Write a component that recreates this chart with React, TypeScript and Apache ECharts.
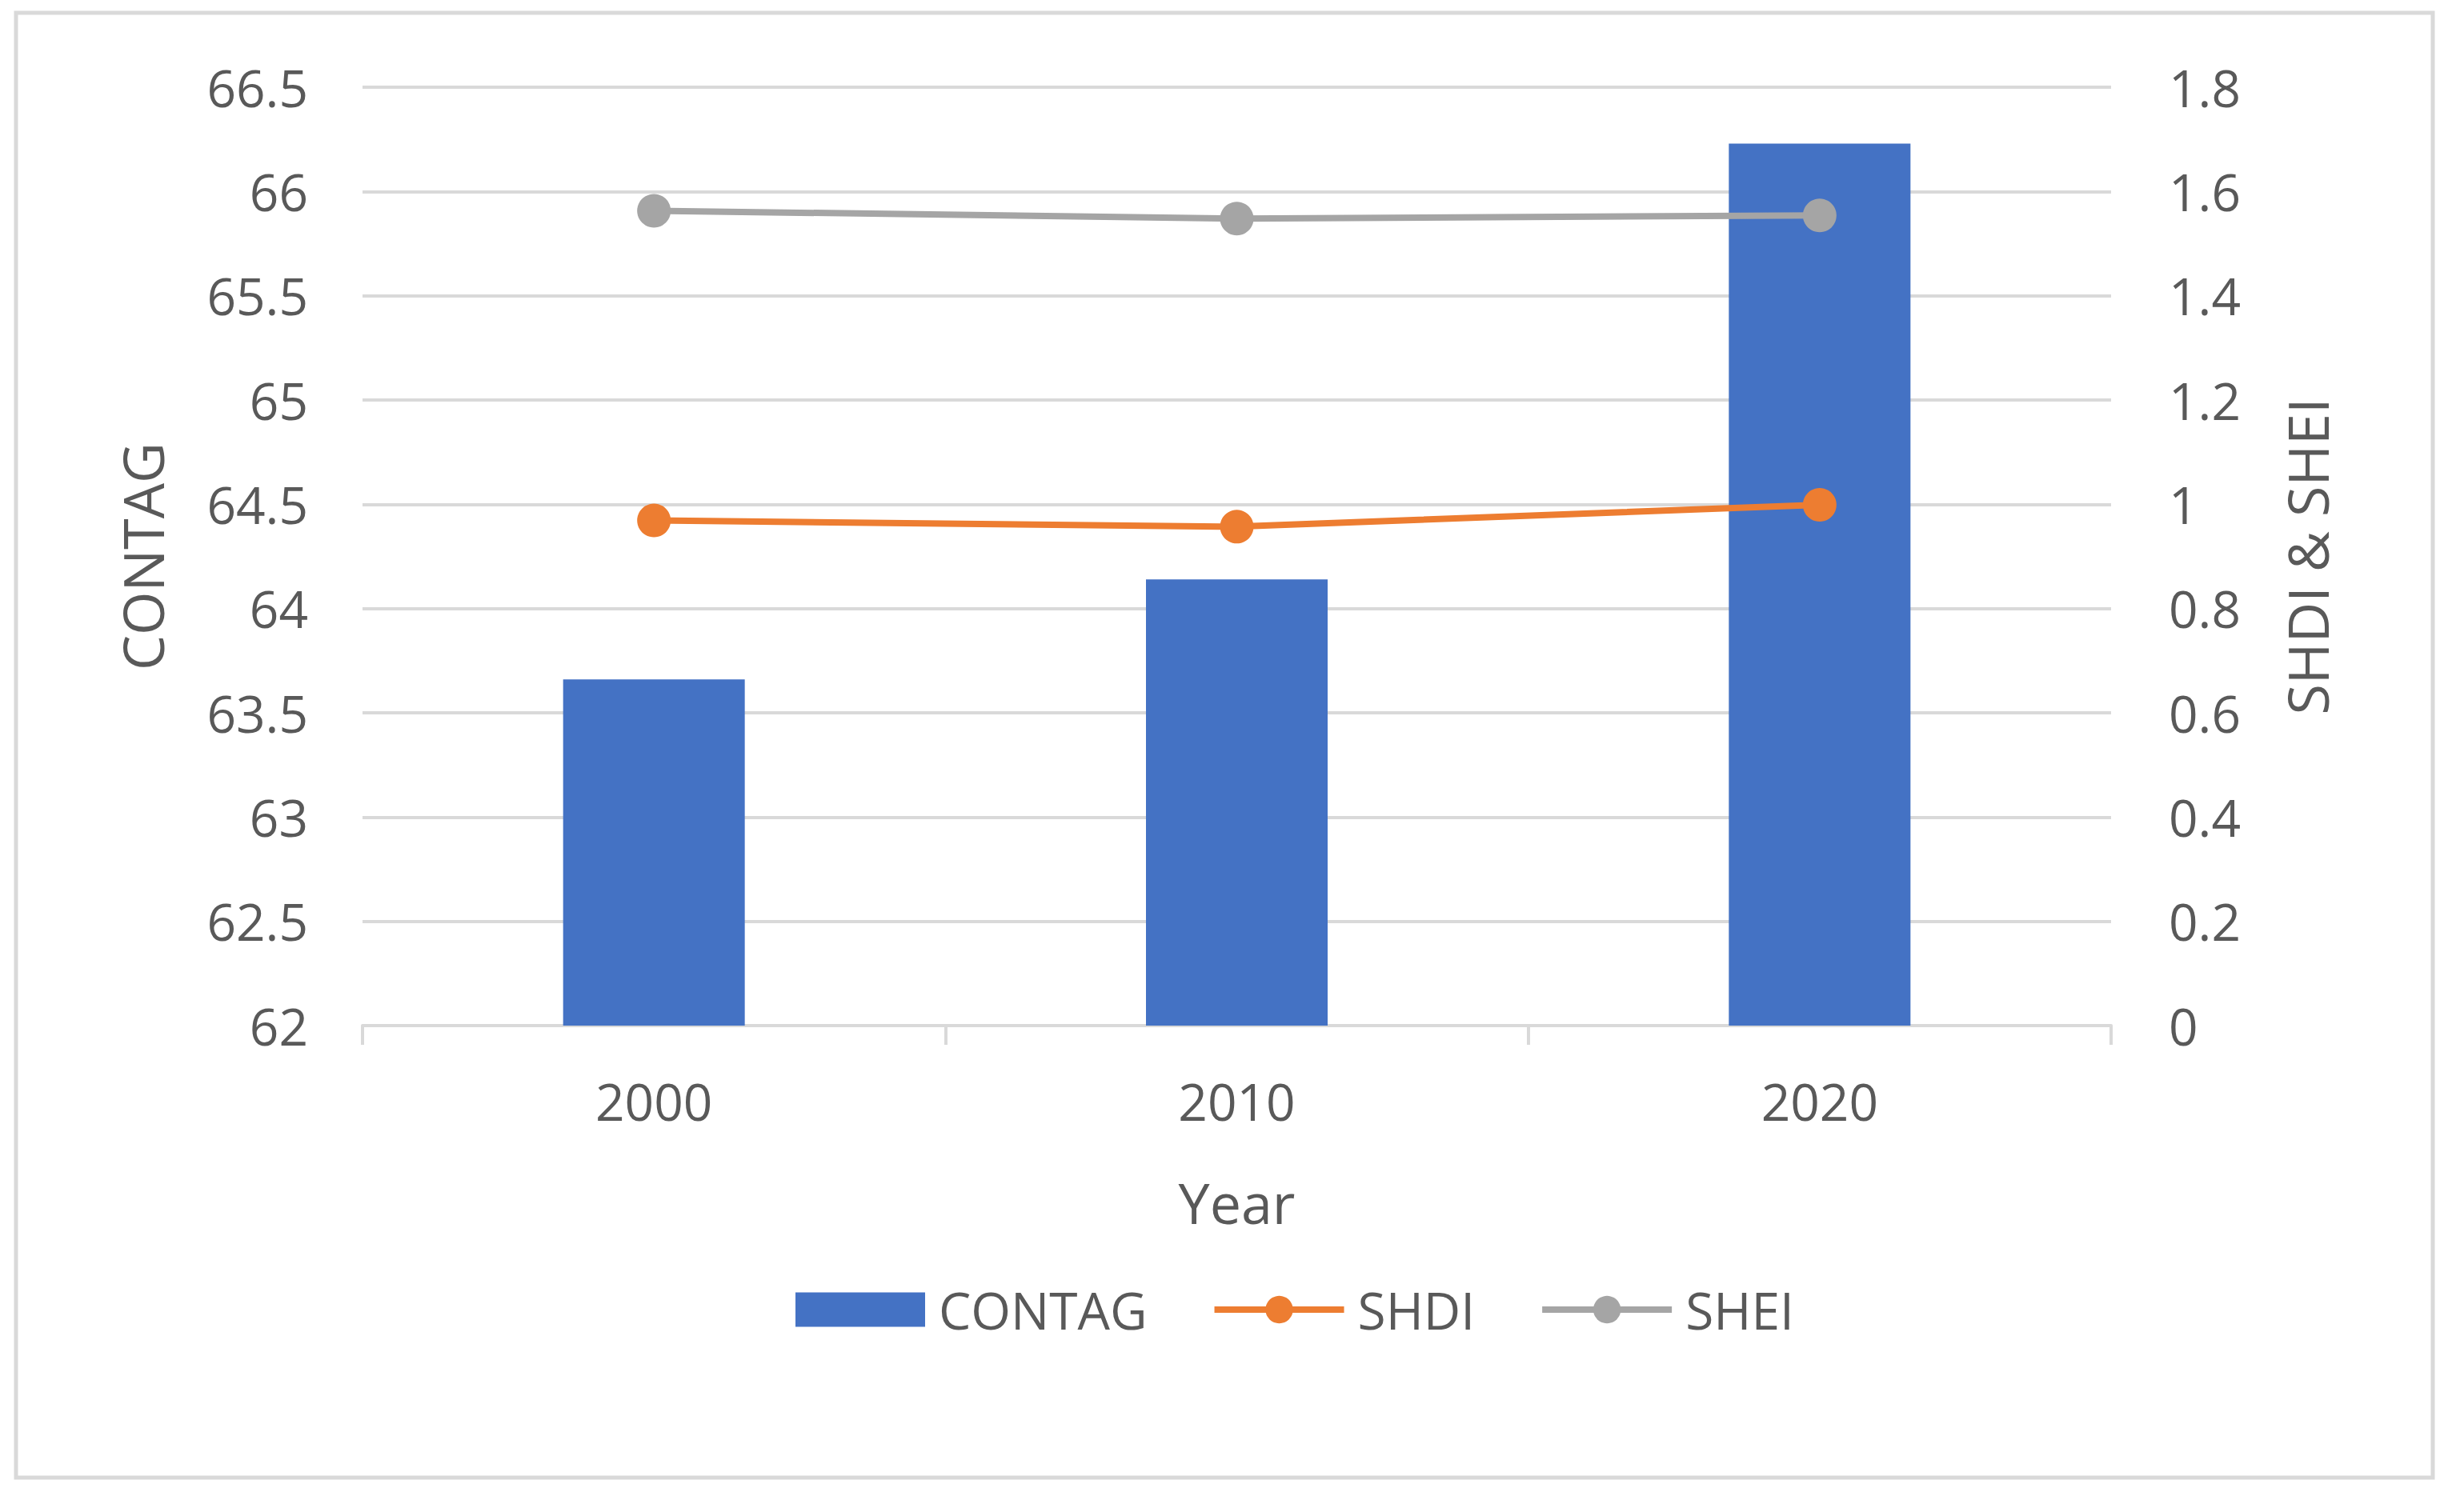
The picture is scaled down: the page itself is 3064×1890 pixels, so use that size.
import React, { useEffect, useRef } from "react";
import * as echarts from "echarts";

const years = ["2000", "2010", "2020"];
const contag = [63.66, 64.14, 66.23];
const shdi = [0.969, 0.957, 0.999];
const shei = [1.563, 1.548, 1.554];

const FONT = "Open Sans";
const TXT = "#595959";

export default function App() {
  const ref = useRef<HTMLDivElement>(null);
  useEffect(() => {
    if (!ref.current) return;
    const chart = echarts.init(ref.current, null, { renderer: "svg" });
    chart.setOption({
      animation: false,
      backgroundColor: "#ffffff",
      textStyle: { fontFamily: FONT },
      graphic: [
        {
          type: "rect",
          shape: { x: 20, y: 16, width: 3020, height: 1831 },
          style: { fill: "none", stroke: "#d9d9d9", lineWidth: 5 },
          silent: true,
        },
      ],
      legend: {
        left: 989,
        top: 1600,
        itemWidth: 162,
        itemHeight: 43,
        itemGap: 80,
        textStyle: { fontFamily: FONT, fontSize: 64, color: TXT, padding: [0, 0, 0, 12] },
        data: [
          { name: "CONTAG", icon: "rect" },
          { name: "SHDI", lineStyle: { width: 8, color: "#ED7D31" } },
          { name: "SHEI", lineStyle: { width: 8, color: "#A5A5A5" } },
        ],
      },
      grid: { left: 453, right: 426, top: 109, bottom: 608, containLabel: false },
      xAxis: {
        type: "category",
        data: years,
        name: "Year",
        nameLocation: "middle",
        nameGap: 186,
        nameTextStyle: { fontFamily: FONT, fontSize: 70, color: TXT },
        axisLine: { show: true, lineStyle: { color: "#d9d9d9", width: 4 } },
        axisTick: { show: true, length: 24, lineStyle: { color: "#d9d9d9", width: 4 } },
        axisLabel: { margin: 62, fontFamily: FONT, fontSize: 64, color: TXT },
      },
      yAxis: [
        {
          type: "value",
          min: 62,
          max: 66.5,
          interval: 0.5,
          name: "CONTAG",
          nameLocation: "middle",
          nameRotate: 90,
          nameGap: 240,
          nameTextStyle: { fontFamily: FONT, fontSize: 70, color: TXT },
          axisLine: { show: false },
          axisTick: { show: false },
          axisLabel: { margin: 68, fontFamily: FONT, fontSize: 64, color: TXT },
          splitLine: { show: true, lineStyle: { color: "#d9d9d9", width: 4 } },
        },
        {
          type: "value",
          min: 0,
          max: 1.8,
          interval: 0.2,
          name: "SHDI & SHEI",
          nameLocation: "middle",
          nameRotate: 90,
          nameGap: 210,
          nameTextStyle: { fontFamily: FONT, fontSize: 70, color: TXT },
          axisLine: { show: false },
          axisTick: { show: false },
          axisLabel: { margin: 72, fontFamily: FONT, fontSize: 64, color: TXT },
          splitLine: { show: false },
        },
      ],
      series: [
        {
          name: "CONTAG",
          type: "bar",
          data: contag,
          barWidth: 227,
          itemStyle: { color: "#4472C4" },
          yAxisIndex: 0,
        },
        {
          name: "SHDI",
          type: "line",
          data: shdi,
          yAxisIndex: 1,
          symbol: "circle",
          symbolSize: 42,
          itemStyle: { color: "#ED7D31" },
          lineStyle: { color: "#ED7D31", width: 8 },
        },
        {
          name: "SHEI",
          type: "line",
          data: shei,
          yAxisIndex: 1,
          symbol: "circle",
          symbolSize: 42,
          itemStyle: { color: "#A5A5A5" },
          lineStyle: { color: "#A5A5A5", width: 8 },
        },
      ],
    });
    return () => chart.dispose();
  }, []);
  return (
    <div
      ref={ref}
      style={{ position: "fixed", left: 0, top: 0, width: 3064, height: 1890 }}
    />
  );
}
